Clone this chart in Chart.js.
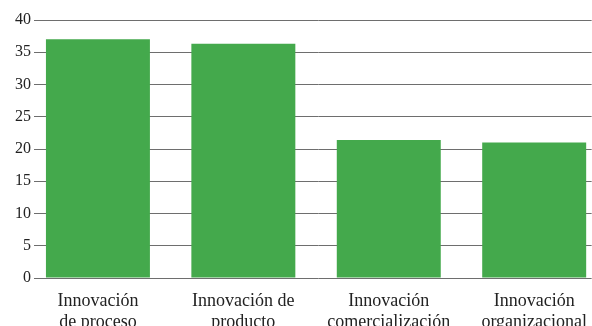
<!DOCTYPE html>
<html>
<head>
<meta charset="utf-8">
<script src="https://cdn.jsdelivr.net/npm/chart.js@4/dist/chart.umd.min.js"></script>
<style>
  html, body { margin: 0; padding: 0; background: #fff; overflow: hidden; }
  #wrap { width: 592px; height: 326px; position: relative; }
</style>
</head>
<body>
<div id="wrap"><canvas id="chart"></canvas></div>
<script>
const categories = [
    ["Innovación", "de proceso"],
    ["Innovación de", "producto"],
    ["Innovación", "comercialización"],
    ["Innovación", "organizacional"]
];
const values = [37.0, 36.3, 21.4, 21.0];
const yTicks = [0, 5, 10, 15, 20, 25, 30, 35, 40];

const serif = "\"Liberation Serif\", \"Times New Roman\", \"DejaVu Serif\", serif";

// bars sit on a numeric x axis so the first one can start right at the y axis
const points = values.map((v, i) => ({ x: i, y: v }));

new Chart(document.getElementById("chart"), {
    type: "bar",
    data: {
        datasets: [{
            data: points,
            backgroundColor: "#44a94c",
            borderWidth: 0,
            barPercentage: 0.715,
            categoryPercentage: 1
        }]
    },
    options: {
        responsive: true,
        maintainAspectRatio: false,
        animation: false,
        layout: { padding: { top: 20, right: 0, left: 0, bottom: 0 } },
        plugins: { legend: { display: false }, tooltip: { enabled: false } },
        scales: {
            x: {
                type: "linear",
                offset: false,
                min: -0.364,
                max: 3.395,
                grid: { display: false, offset: false },
                border: { display: false },
                afterBuildTicks: scale => {
                    scale.ticks = categories.map((c, i) => ({ value: i }));
                },
                afterFit: scale => { scale.height = 48; },
                ticks: {
                    autoSkip: false,
                    maxRotation: 0,
                    padding: 5,
                    color: "#222",
                    font: { family: serif, size: 18, lineHeight: 1.17 },
                    callback: v => categories[v]
                }
            },
            y: {
                min: 0,
                max: 40,
                afterBuildTicks: scale => {
                    scale.ticks = yTicks.map(v => ({ value: v }));
                },
                afterFit: scale => { scale.width = 45; },
                border: { display: false },
                grid: {
                    color: "#6e6e6e",
                    lineWidth: 1,
                    tickLength: 11,
                    drawTicks: true
                },
                ticks: {
                    padding: 3,
                    color: "#222",
                    font: { family: serif, size: 16 }
                }
            }
        }
    }
});
</script>
</body>
</html>
